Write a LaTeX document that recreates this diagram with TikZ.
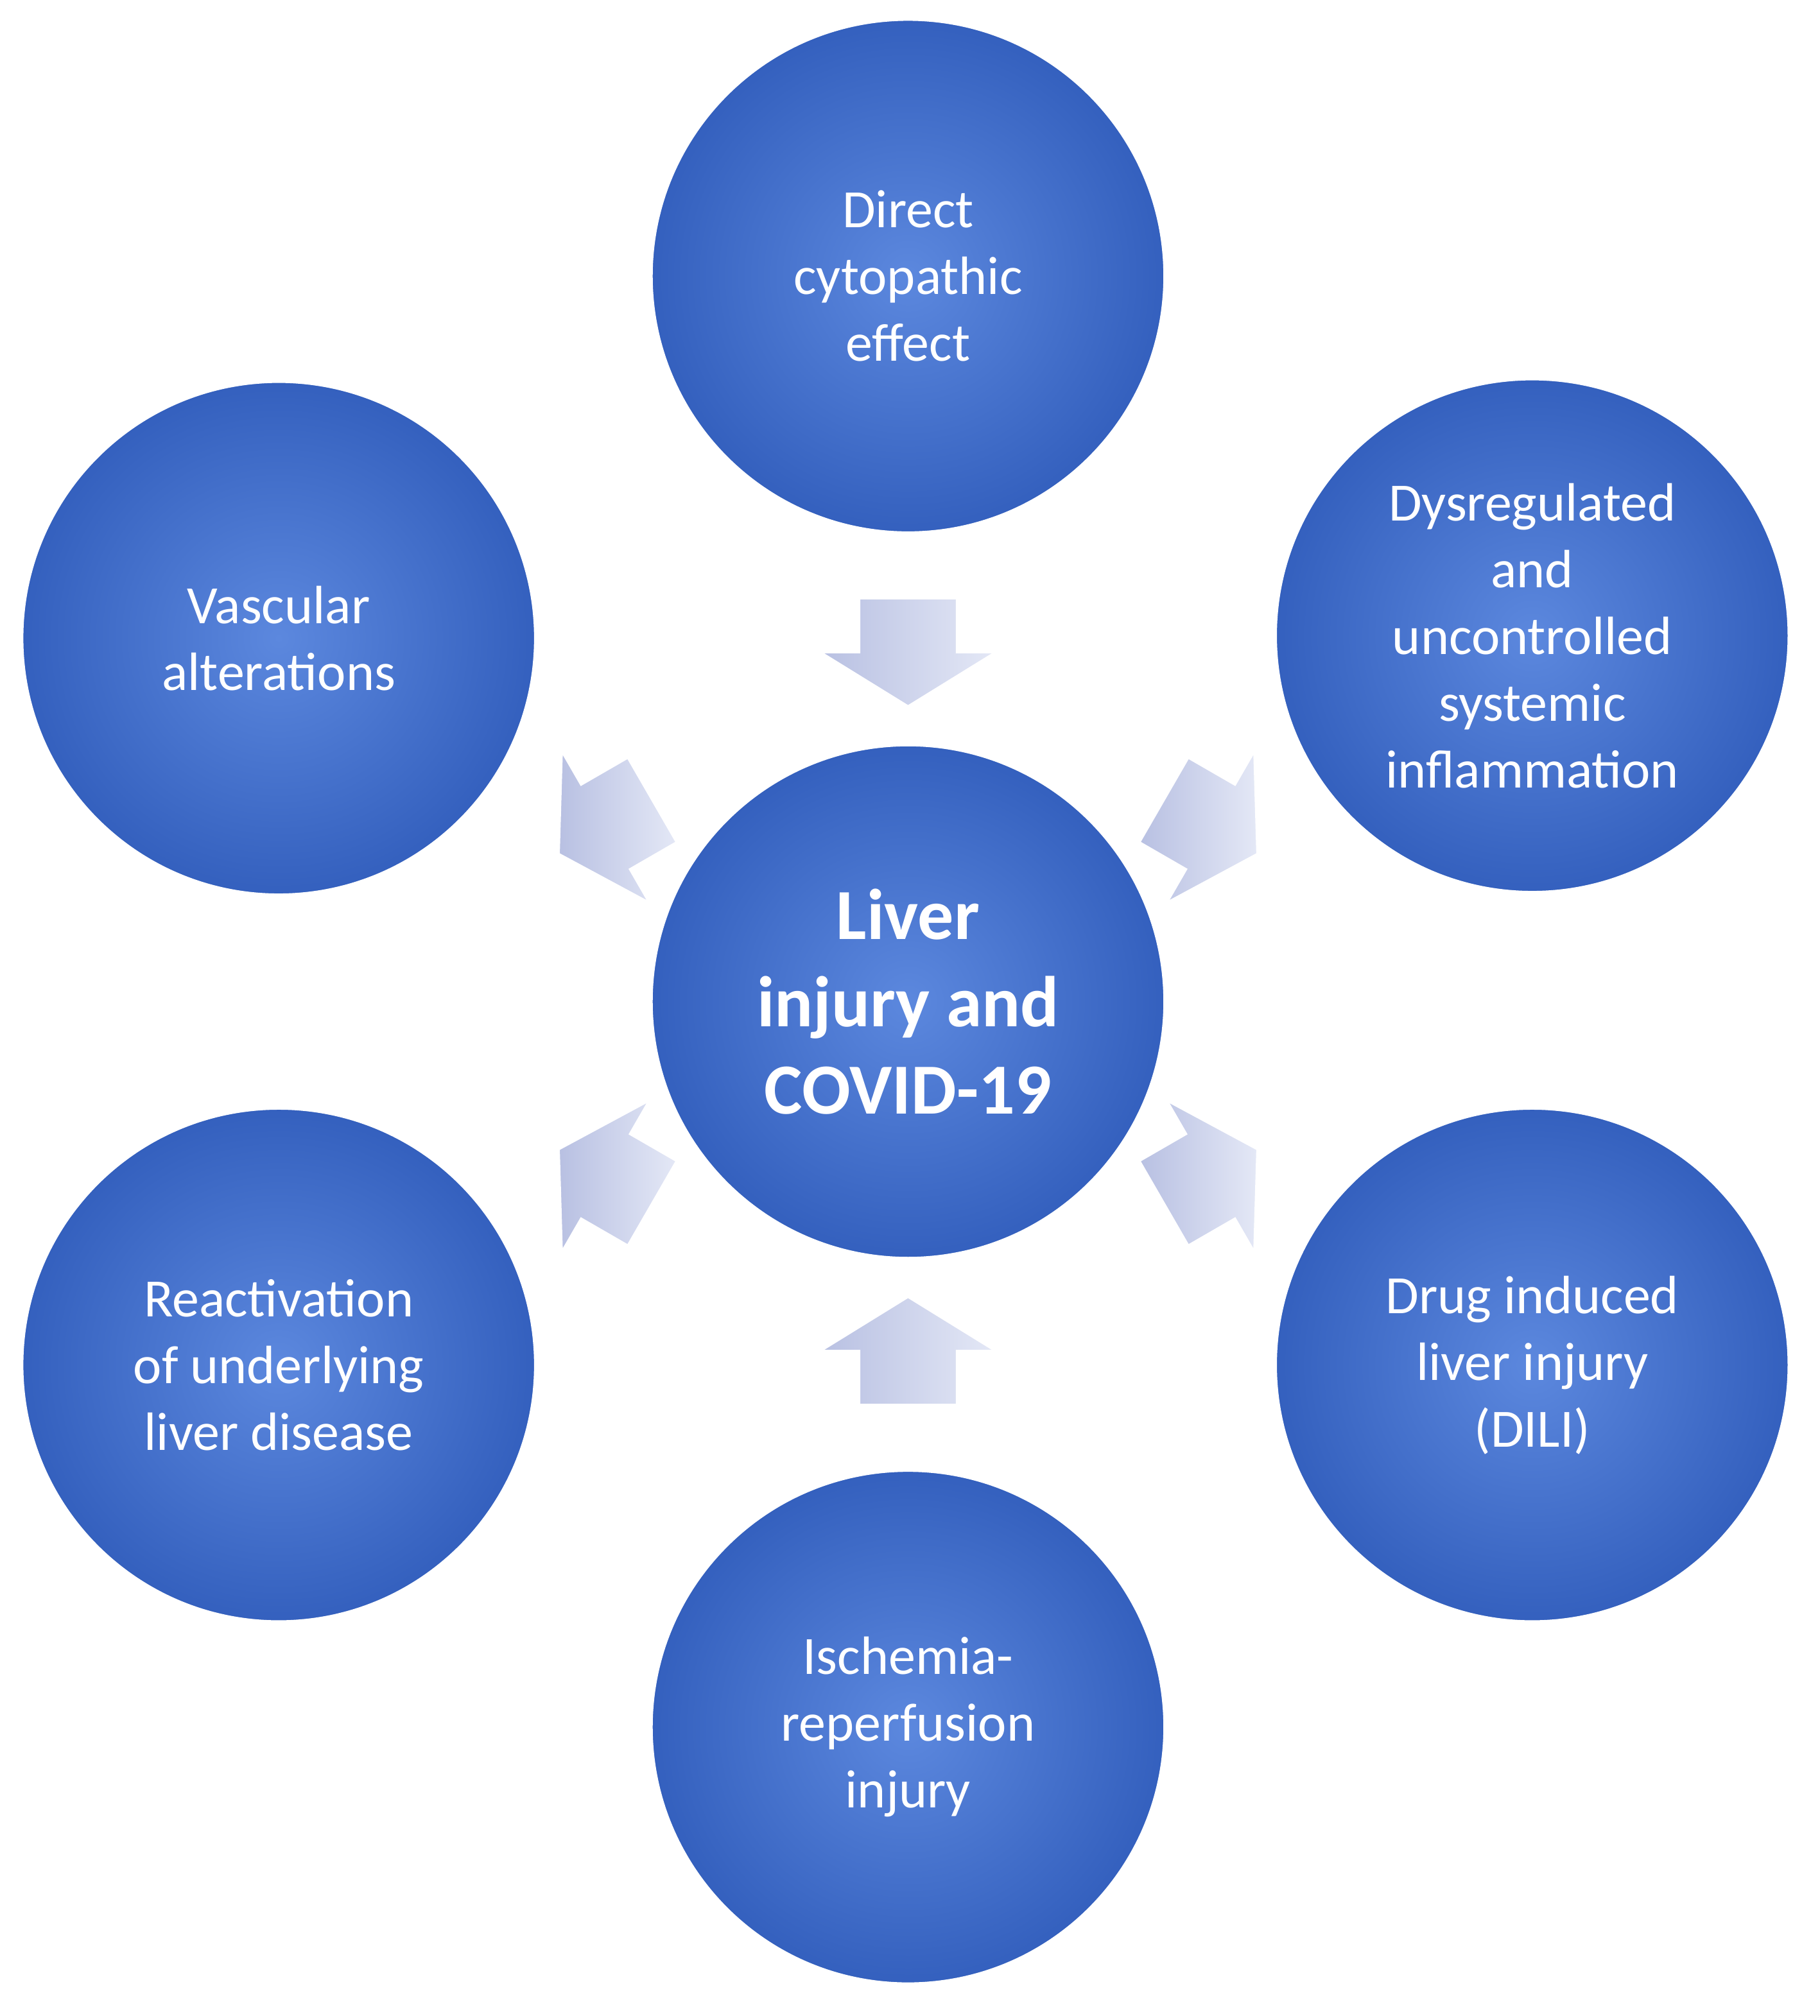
\documentclass[tikz,border=0pt]{standalone}
\usepackage{fontspec}
\setmainfont{Carlito}
\usetikzlibrary{calc}
\definecolor{ballblue}{RGB}{52,96,190}
\definecolor{balllight}{RGB}{92,136,222}
\definecolor{arrowfill}{RGB}{184,192,226}
\definecolor{arrowlight}{RGB}{228,232,246}
\tikzset{
  cause/.style={circle, minimum size=200pt, inner sep=0pt, draw=white, line width=1.2pt,
    inner color=balllight, outer color=ballblue, text=white, align=center,
    font=\fontsize{21}{26}\selectfont},
  hub/.style={cause, font=\bfseries\fontsize{28}{34}\selectfont},
  push/.pic={
    \fill[left color=arrowfill, right color=arrowlight, draw=white, line width=0.8pt]
      (-42,-38) -- (0,-38) -- (0,-68) -- (42,0) -- (0,68) -- (0,38) -- (-42,38) -- cycle;
  }
}
\begin{document}
\begin{tikzpicture}[x=0.5pt,y=-0.5pt]
  \useasboundingbox (0,0) rectangle (1417,1570);

  \node[hub]   (liver)    at (707,780)  {Liver\\injury and\\COVID-19};
  \node[cause] (direct)   at (707,215)  {Direct\\cytopathic\\effect};
  \node[cause] (dysreg)   at (1193,495) {Dysregulated\\and\\uncontrolled\\systemic\\inflammation};
  \node[cause] (drug)     at (1193,1063) {Drug induced\\liver injury\\(DILI)};
  \node[cause] (ischemia) at (707,1345) {Ischemia-\\reperfusion\\injury};
  \node[cause] (react)    at (217,1063) {Reactivation\\of underlying\\liver disease};
  \node[cause] (vasc)     at (217,497)  {Vascular\\alterations};

  % arrows between hub and causes
  \foreach \name/\ang in {direct/90, dysreg/30, drug/-30, ischemia/-90, react/210, vasc/150}
    \pic[rotate=-\ang] (to-\name)
      at ($(liver)+({272*cos(\ang)},{-272*sin(\ang)})$) {push};
\end{tikzpicture}
\end{document}
